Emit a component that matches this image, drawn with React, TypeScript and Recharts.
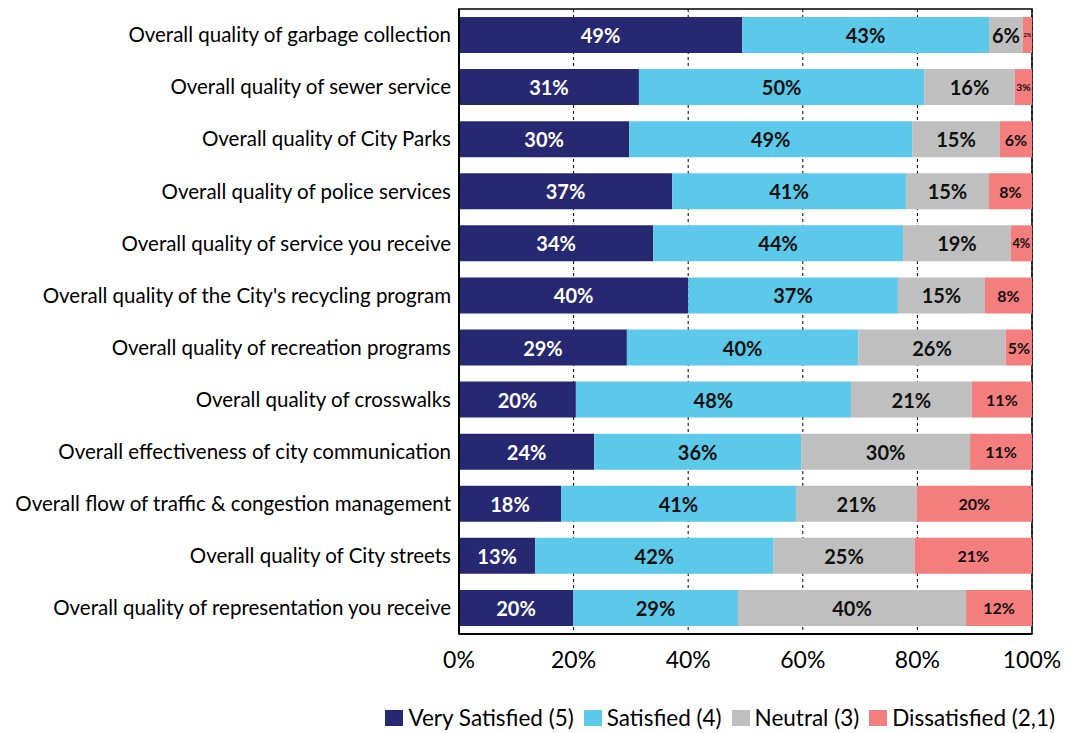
import React from 'react';
import { BarChart, Bar, XAxis, YAxis, CartesianGrid, LabelList, Legend, ReferenceArea } from 'recharts';

const categories = [
  'Overall quality of garbage collection',
  'Overall quality of sewer service',
  'Overall quality of City Parks',
  'Overall quality of police services',
  'Overall quality of service you receive',
  "Overall quality of the City's recycling program",
  'Overall quality of recreation  programs',
  'Overall quality of crosswalks',
  'Overall effectiveness of city communication',
  'Overall flow of traffic & congestion management',
  'Overall quality of City streets',
  'Overall quality of representation you receive',
];

const verySatisfied = [49.4, 31.4, 29.7, 37.2, 33.9, 40.0, 29.3, 20.4, 23.6, 17.8, 13.3, 19.9];
const satisfied = [43.1, 49.8, 49.4, 40.8, 43.6, 36.6, 40.4, 48.0, 36.1, 41.0, 41.6, 28.8];
const neutral = [5.9, 15.8, 15.3, 14.5, 18.8, 15.2, 25.7, 21.1, 29.5, 21.1, 24.6, 39.8];
const dissatisfied = [1.6, 3.0, 5.6, 7.5, 3.7, 8.2, 4.6, 10.5, 10.8, 20.1, 20.5, 11.5];

const xTicks = [0, 20, 40, 60, 80, 100];

const seriesNames = ['Very Satisfied (5)', 'Satisfied (4)', 'Neutral (3)', 'Dissatisfied (2,1)'];
const seriesKeys = ['vs', 's', 'n', 'd'];
const colors = ['#262872', '#5CC9EA', '#BFBFBF', '#F47D7D'];

const data = categories.map((name, i) => ({
  name,
  vs: verySatisfied[i],
  s: satisfied[i],
  n: neutral[i],
  d: dissatisfied[i],
}));

const FONT = 'Lato, "Open Sans", sans-serif';

const makeLabel = (color: string, base: number) => (props: any) => {
  const { x, y, width, height, value } = props;
  const w = Number(width);
  const fs = Math.min(base, w * 0.6);
  return (
    <text
      x={Number(x) + w / 2}
      y={Number(y) + Number(height) / 2}
      textAnchor="middle"
      dominantBaseline="central"
      fill={color}
      fontFamily={FONT}
      fontWeight={700}
      fontSize={fs}
    >
      {`${Math.round(Number(value))}%`}
    </text>
  );
};

const LegendContent = () => (
  <div
    style={{
      display: 'flex',
      justifyContent: 'flex-end',
      alignItems: 'center',
      fontFamily: FONT,
      fontSize: 22.5,
      lineHeight: '30px',
      color: '#000',
      paddingRight: 22,
    }}
  >
    {seriesNames.map((n, i) => (
      <div key={n} style={{ display: 'flex', alignItems: 'center', marginLeft: i === 0 ? 0 : 10 }}>
        <span style={{ display: 'inline-block', width: 18, height: 16, background: colors[i], marginRight: 5 }} />
        <span>{n}</span>
      </div>
    ))}
  </div>
);

export default function App() {
  return (
    <div style={{ position: 'absolute', left: 0, top: 0, width: 1077, height: 733, background: '#fff' }}>
      <BarChart
        width={1077}
        height={733}
        data={data}
        layout="vertical"
        margin={{ top: 9, right: 45, bottom: 0, left: 0 }}
        barCategoryGap={8}
      >
        <CartesianGrid vertical horizontal={false} stroke="#000" strokeDasharray="3 3" />
        <XAxis
          type="number"
          domain={[0, 100]}
          ticks={xTicks}
          tickFormatter={(v: number) => `${v}%`}
          tickLine={false}
          axisLine={{ stroke: '#000', strokeWidth: 2 }}
          tick={{ fontSize: 23, fill: '#000', fontFamily: FONT }}
          tickMargin={12}
          height={69}
          interval={0}
        />
        <YAxis
          type="category"
          dataKey="name"
          width={459}
          tickLine={false}
          axisLine={{ stroke: '#000', strokeWidth: 2 }}
          tick={{ fontSize: 20.5, fill: '#000', fontFamily: FONT }}
          interval={0}
        />
        {seriesKeys.map((k, i) => (
          <Bar key={k} dataKey={k} name={seriesNames[i]} stackId="a" fill={colors[i]} isAnimationActive={false}>
            <LabelList
              dataKey={k}
              content={makeLabel(i === 0 ? '#ffffff' : '#111111', i === 3 ? 16 : 20)}
            />
          </Bar>
        ))}
        <ReferenceArea x1={0} x2={100} fill="none" stroke="#000" strokeWidth={1.5} />
        <Legend
          verticalAlign="bottom"
          height={30}
          wrapperStyle={{ left: 0, width: 1077 }}
          content={<LegendContent />}
        />
      </BarChart>
    </div>
  );
}
